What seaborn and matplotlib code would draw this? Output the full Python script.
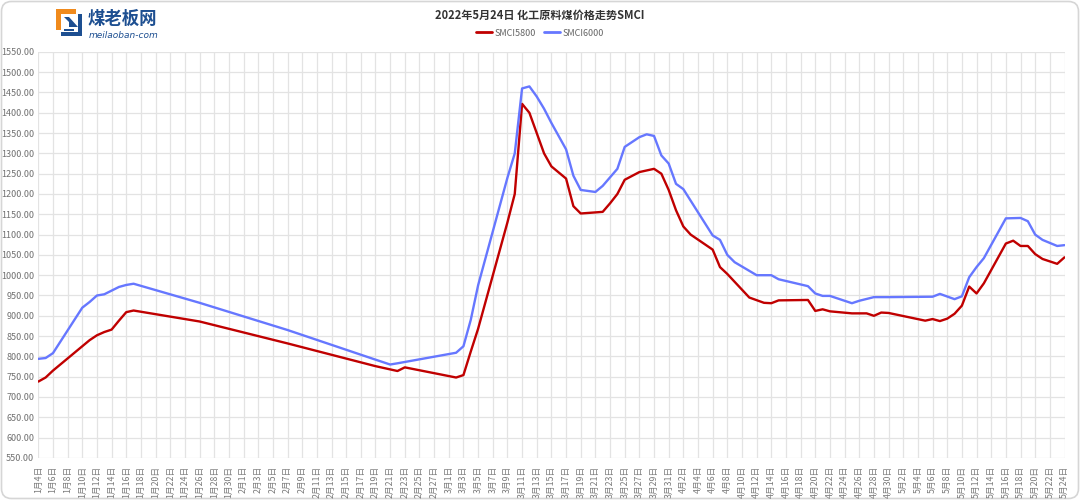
import numpy as np
import pandas as pd
import matplotlib
matplotlib.use("Agg")
import matplotlib.pyplot as plt
import seaborn as sns
from matplotlib.patches import FancyBboxPatch, Polygon

# ---------------- data ----------------
title = "2022年5月24日 化工原料煤价格走势SMCI"
series_names = ["SMCI5800", "SMCI6000"]

dates_5800 = ["1/4", "1/5", "1/6", "1/10", "1/11", "1/12", "1/13", "1/14", "1/15", "1/16", "1/17",
              "1/26", "2/7", "2/19", "2/22", "2/23", "3/2", "3/3", "3/4", "3/5", "3/9", "3/10",
              "3/11", "3/12", "3/13", "3/14", "3/15", "3/17", "3/18", "3/19", "3/22", "3/23",
              "3/24", "3/25", "3/27", "3/29", "3/30", "3/31", "4/1", "4/2", "4/3", "4/6", "4/7",
              "4/8", "4/11", "4/13", "4/14", "4/15", "4/19", "4/20", "4/21", "4/22", "4/25",
              "4/27", "4/28", "4/29", "4/30", "5/5", "5/6", "5/7", "5/8", "5/9", "5/10", "5/11",
              "5/12", "5/13", "5/16", "5/17", "5/18", "5/19", "5/20", "5/21", "5/23", "5/24"]
smci5800 = [738, 748, 765, 825, 840, 852, 860, 866, 888, 909, 913,
            886, 832, 776, 764, 773, 748, 754, 812, 868, 1130, 1200,
            1422, 1400, 1350, 1300, 1268, 1238, 1170, 1152, 1156, 1177,
            1200, 1235, 1254, 1262, 1250, 1210, 1160, 1120, 1100, 1063, 1020,
            1003, 945, 932, 931, 938, 939, 912, 916, 911, 906,
            906, 900, 908, 907, 888, 892, 887, 893, 905, 925, 972,
            955, 980, 1078, 1085, 1072, 1072, 1052, 1040, 1028, 1044]

dates_6000 = ["1/4", "1/5", "1/6", "1/10", "1/11", "1/12", "1/13", "1/14", "1/15", "1/16", "1/17",
              "1/26", "2/7", "2/19", "2/21", "2/22", "3/2", "3/3", "3/4", "3/5", "3/9", "3/10",
              "3/11", "3/12", "3/13", "3/14", "3/15", "3/17", "3/18", "3/19", "3/21", "3/22",
              "3/24", "3/25", "3/27", "3/28", "3/29", "3/30", "3/31", "4/1", "4/2", "4/6", "4/7",
              "4/8", "4/9", "4/12", "4/14", "4/15", "4/19", "4/20", "4/21", "4/22", "4/25",
              "4/26", "4/28", "4/30", "5/6", "5/7", "5/9", "5/10", "5/11", "5/12", "5/13",
              "5/16", "5/18", "5/19", "5/20", "5/21", "5/23", "5/24"]
smci6000 = [794, 796, 808, 920, 934, 950, 953, 962, 971, 976, 979,
            932, 865, 792, 780, 783, 809, 825, 890, 975, 1240, 1300,
            1460, 1465, 1440, 1410, 1375, 1310, 1245, 1210, 1205, 1220,
            1262, 1316, 1340, 1347, 1343, 1295, 1275, 1225, 1212, 1098, 1087,
            1050, 1032, 1000, 1000, 990, 973, 955, 949, 949, 931,
            937, 946, 946, 947, 954, 941, 948, 995, 1020, 1042,
            1140, 1141, 1133, 1100, 1087, 1072, 1074]

start_date = "2022-01-04"
end_date = "2022-05-24"
y_ticks = list(range(550, 1551, 50))

colors = {"SMCI5800": "#c00000", "SMCI6000": "#6677ff"}

# ---------------- prep ----------------
t0 = pd.Timestamp(start_date)


def to_day(md):
    m, d = md.split("/")
    return (pd.Timestamp(year=2022, month=int(m), day=int(d)) - t0).days


df = pd.concat([
    pd.DataFrame({"day": [to_day(s) for s in dates_5800], "value": smci5800, "series": "SMCI5800"}),
    pd.DataFrame({"day": [to_day(s) for s in dates_6000], "value": smci6000, "series": "SMCI6000"}),
])

all_days = pd.date_range(start_date, end_date, freq="D")
tick_days = list(range(0, len(all_days), 2))
tick_labels = [f"{all_days[i].month}月{all_days[i].day}日" for i in tick_days]

# ---------------- style ----------------
sns.set_theme(style="white")
plt.rcParams["font.family"] = ["Noto Sans CJK SC", "DejaVu Sans"]

W, H = 1080, 500
fig = plt.figure(figsize=(W / 100, H / 100), dpi=100)
fig.patch.set_facecolor("white")

# background overlay in pixel units (border + logo)
bg = fig.add_axes([0, 0, 1, 1], zorder=-5)
bg.set_xlim(0, W)
bg.set_ylim(H, 0)
bg.axis("off")
bg.add_patch(FancyBboxPatch((1.5, 1.5), W - 3, H - 3,
                            boxstyle="round,pad=0,rounding_size=10",
                            fc="white", ec="#d6d6d6", lw=1.2))
# logo icon
bg.add_patch(Polygon([(56, 9), (76, 9), (76, 14), (61, 14), (61, 30), (56, 30)],
                     closed=True, fc="#f08a1c", ec="none"))
bg.add_patch(Polygon([(64, 17), (69, 17), (78, 27), (69, 27), (69, 22)],
                     closed=True, fc="#1d4f91", ec="none"))
bg.add_patch(Polygon([(78, 14), (82, 14), (82, 36), (61, 36), (61, 32), (78, 32)],
                     closed=True, fc="#1d4f91", ec="none"))
bg.add_patch(Polygon([(64, 29), (74, 29), (74, 31), (64, 31)],
                     closed=True, fc="#1d4f91", ec="none"))
bg.text(88, 19, "煤老板网", fontsize=12.5, fontweight="bold", color="#1d4f91",
        va="center", ha="left")
bg.text(89, 35.5, "meilaoban-com", fontsize=6.5, color="#1d4f91", style="italic",
        va="center", ha="left", family=["DejaVu Sans"])

# main axes
left, right = 38.3, 1064.5
top, bottom = 51.9, 457.9
ax = fig.add_axes([left / W, 1 - bottom / H, (right - left) / W, (bottom - top) / H])
ax.set_facecolor("none")

for name in series_names:
    sub = df[df["series"] == name]
    sns.lineplot(data=sub, x="day", y="value", ax=ax, color=colors[name],
                 linewidth=1.7, label=name, sort=True, estimator=None,
                 solid_joinstyle="round", solid_capstyle="round", zorder=3)

ax.set_xlim(0, len(all_days) - 1)
ax.set_ylim(550, 1550)
ax.set_yticks(y_ticks)
ax.set_yticklabels([f"{v:.2f}" for v in y_ticks])
ax.set_xticks(tick_days)
ax.set_xticklabels(tick_labels, rotation=90)
ax.set_xlabel("")
ax.set_ylabel("")

ax.grid(True, which="major", axis="both", color="#e3e3e3", linewidth=0.9, zorder=0)
for s in ax.spines.values():
    s.set_visible(False)
ax.tick_params(axis="x", length=3.5, width=0.9, color="#e3e3e3", pad=2,
               labelsize=6.3, labelcolor="#7a7a7a")
ax.tick_params(axis="y", length=0, pad=3, labelsize=6.5, labelcolor="#707070")
for lab in ax.get_xticklabels():
    lab.set_va("top")

# title & legend
fig.text(0.5, 1 - 15 / H, title, ha="center", va="center", fontsize=8,
         color="#333333", fontweight="bold")
leg = ax.legend(loc="center", bbox_to_anchor=(0.5, 1 - 33 / H), bbox_transform=fig.transFigure,
                ncol=2, frameon=False, fontsize=6.5, handlelength=1.8, handletextpad=0.3,
                columnspacing=0.8, borderpad=0)
for t in leg.get_texts():
    t.set_color("#666666")
for lh in leg.get_lines():
    lh.set_linewidth(2)

fig.savefig("out.png", dpi=100, facecolor="white")
